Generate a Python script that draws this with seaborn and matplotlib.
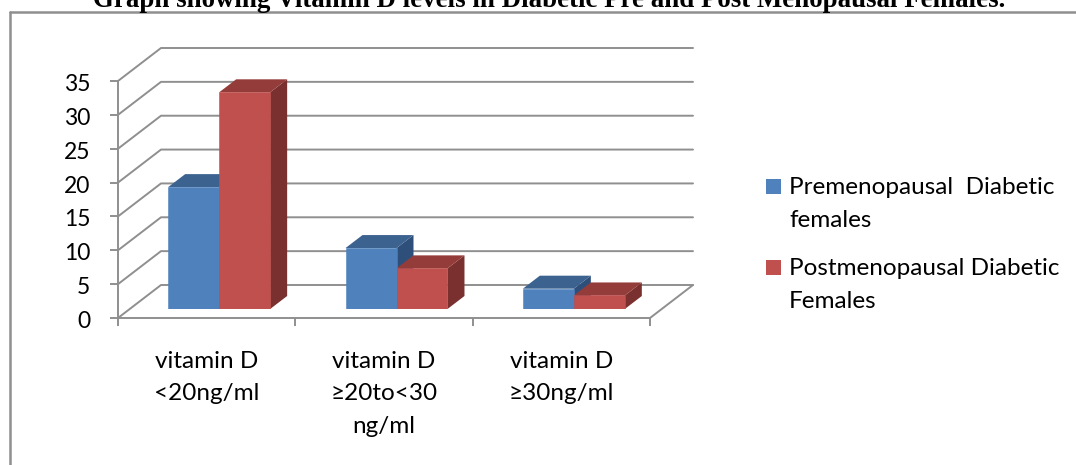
import pandas as pd
import seaborn as sns
import matplotlib.pyplot as plt
from matplotlib.lines import Line2D
from matplotlib.patches import Rectangle
from matplotlib.transforms import ScaledTranslation

# ==============================
# Data
# ==============================
categories = ["vitamin D\n<20ng/ml", "vitamin D\n≥20to<30\nng/ml", "vitamin D\n≥30ng/ml"]
premenopausal = [18, 9, 3]
postmenopausal = [32, 6, 2]
series_names = ["Premenopausal  Diabetic\nfemales", "Postmenopausal Diabetic\nFemales"]
y_ticks = [0, 5, 10, 15, 20, 25, 30, 35]
title = "Graph showing Vitamin D levels in Diabetic Pre and Post Menopausal Females."

df = pd.DataFrame({
    "category": categories * 2,
    "group": [series_names[0]] * 3 + [series_names[1]] * 3,
    "value": premenopausal + postmenopausal,
})

# ==============================
# Layout, everything in reference pixels
# ==============================
W, H = 1076, 465
GREY = "#8f8f8f"
LINE_W = 1.4
front_colors = ["#4f81bd", "#c0504d"]
top_colors = ["#3c6290", "#943c3a"]
side_colors = ["#2f4f7b", "#7a302e"]


def box(left, right, top, bottom):
    return [left / W, 1 - bottom / H, (right - left) / W, (bottom - top) / H]


sns.set_theme(style="white")
plt.rcParams["font.family"] = ["Lato", "DejaVu Sans"]
fig = plt.figure(figsize=(W / 100, H / 100), dpi=100)

# outer chart border runs off the right and bottom of the picture
fig.add_artist(Line2D([9.5 / W, 9.5 / W], [0, 1 - 12 / H], color=GREY, lw=1.8))
fig.add_artist(Line2D([9.5 / W, 1], [1 - 12 / H, 1 - 12 / H], color=GREY, lw=1.8))

fig.text(549 / W, 1 - 7 / H, title, family="Liberation Serif", weight="bold",
         fontsize=19.35, color="black", ha="center", va="baseline")

# ==============================
# Front plane: axis, ticks, walls
# ==============================
ax = fig.add_axes(box(118, 650, 81, 318))
ax.set_xlim(-0.5, 2.5)
ax.set_ylim(0, 35)
px_x = 3 / 532      # data units per pixel
px_y = 35 / 237
wall_dx, wall_dy = 43 * px_x, 33 * px_y

for v in y_ticks:
    ax.plot([-0.5, -0.5 + wall_dx, 2.5 + wall_dx], [v, v + wall_dy, v + wall_dy],
            color=GREY, lw=LINE_W, clip_on=False, zorder=1)
ax.plot([2.5, 2.5 + wall_dx], [0, wall_dy], color=GREY, lw=LINE_W, clip_on=False, zorder=1)

ax.patch.set_alpha(0)
ax.spines[["top", "right"]].set_visible(False)
ax.spines[["left", "bottom"]].set_color(GREY)
ax.spines[["left", "bottom"]].set_linewidth(LINE_W)
ax.set_yticks(y_ticks)
ax.set_xticks([-0.5, 0.5, 1.5, 2.5])
ax.set_xticklabels([])
ax.set_xticks([0, 1, 2], labels=categories, minor=True)
ax.tick_params(axis="y", left=True, length=6, width=LINE_W, color=GREY, pad=14,
               labelsize=16.5, labelcolor="black")
ax.tick_params(axis="x", which="major", bottom=True, length=6, width=LINE_W, color=GREY)
ax.tick_params(axis="x", which="minor", bottom=False, length=0, pad=23.5,
               labelsize=17.5, labelcolor="black")
for lab in ax.get_xticklabels(minor=True):
    lab.set_linespacing(1.68)
    lab.set_va("top")
for lab in ax.get_yticklabels():
    lab.set_transform(lab.get_transform() + ScaledTranslation(0, -1.5 / 100, fig.dpi_scale_trans))
ax.set_xlabel("")
ax.set_ylabel("")

# ==============================
# Bars, set back a little from the front plane
# ==============================
ax_bars = fig.add_axes(box(118 + 12.5, 650 + 12.5, 81 - 9, 318 - 9))
sns.barplot(data=df, x="category", y="value", hue="group", palette=front_colors,
            saturation=1, width=0.575, gap=0, legend=False, ax=ax_bars)
ax_bars.set_xlim(-0.5, 2.5)
ax_bars.set_ylim(0, 35)
ax_bars.axis("off")
ax_bars.patch.set_alpha(0)

depth_dx, depth_dy = 17 * px_x, 13 * px_y
for i, bar in enumerate(ax_bars.patches):
    s = i // 3
    x0, x1 = bar.get_x(), bar.get_x() + bar.get_width()
    h = bar.get_height()
    bar.set_zorder(5)
    bar.set_edgecolor(front_colors[s])
    bar.set_linewidth(0.4)
    ax_bars.fill([x1, x1 + depth_dx, x1 + depth_dx, x1], [0, depth_dy, h + depth_dy, h],
                 color=side_colors[s], lw=0, clip_on=False, zorder=2 + s)
    ax_bars.fill([x0, x0 + depth_dx, x1 + depth_dx, x1], [h, h + depth_dy, h + depth_dy, h],
                 color=top_colors[s], lw=0, clip_on=False, zorder=2 + s)

# ==============================
# Legend
# ==============================
legend_rows = [186.5, 267.5]
for name, color, row in zip(series_names, front_colors, legend_rows):
    first, second = name.split("\n")
    fig.add_artist(Rectangle((766 / W, 1 - (row + 7.5) / H), 15 / W, 15 / H,
                             facecolor=color, edgecolor="none", transform=fig.transFigure))
    fig.text(789 / W, 1 - (row + 1) / H, first, fontsize=17.5, color="black", va="center")
    fig.text(789 / W, 1 - (row + 34) / H, second, fontsize=17.5, color="black", va="center")

plt.savefig("out.png", dpi=100)
